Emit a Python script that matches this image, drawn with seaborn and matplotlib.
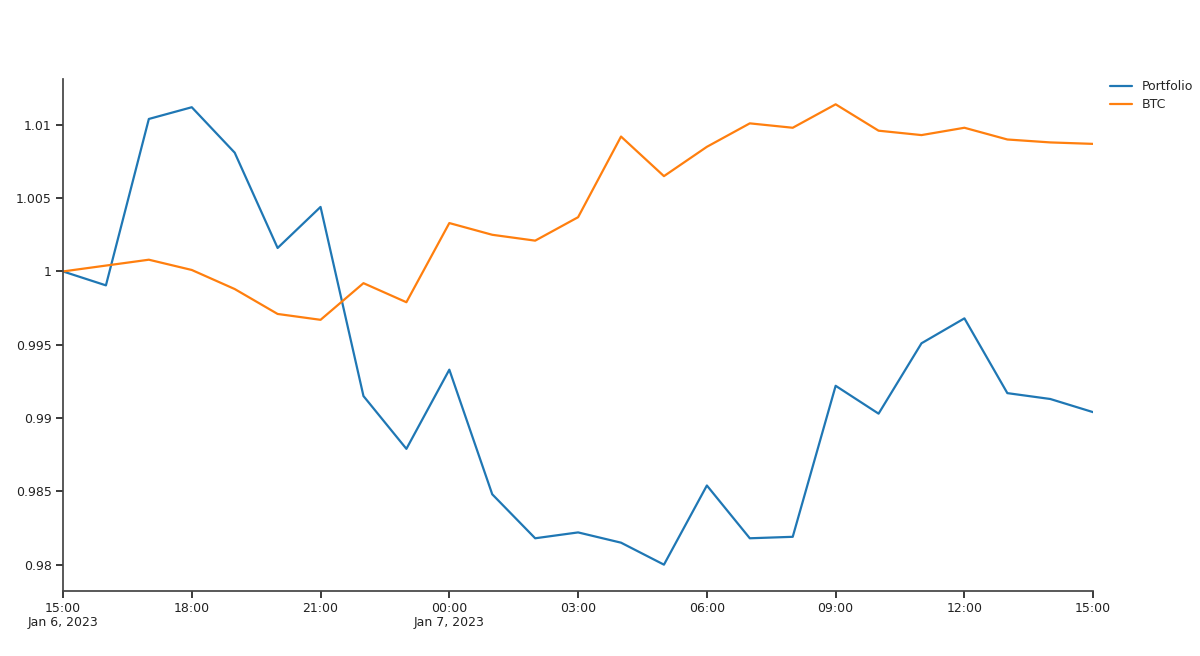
import matplotlib
matplotlib.use("Agg")
import matplotlib.pyplot as plt
import matplotlib.ticker as mticker
import seaborn as sns
import pandas as pd

times = pd.date_range("2023-01-06 15:00", "2023-01-07 15:00", freq="h")
portfolio = [1.0, 0.99905, 1.0104, 1.0112, 1.0081, 1.0016, 1.0044, 0.9915, 0.9879, 0.9933,
             0.9848, 0.9818, 0.9822, 0.9815, 0.9800, 0.9854, 0.9818, 0.9819, 0.9922, 0.9903,
             0.9951, 0.9968, 0.9917, 0.9913, 0.9904]
btc = [1.0, 1.0004, 1.0008, 1.0001, 0.9988, 0.9971, 0.9967, 0.9992, 0.9979, 1.0033,
       1.0025, 1.0021, 1.0037, 1.0092, 1.0065, 1.0085, 1.0101, 1.0098, 1.0114, 1.0096,
       1.0093, 1.0098, 1.0090, 1.0088, 1.0087]

sns.set_theme(style="white")
plt.rcParams['font.family'] = ['DejaVu Sans']
fig = plt.figure(figsize=(12, 6.56), dpi=100)
ax = fig.add_axes([0.0525, 0.099, 0.8585, 0.78])
df = pd.DataFrame({"time": list(times) * 2, "value": portfolio + btc,
                   "series": ["Portfolio"] * 25 + ["BTC"] * 25})
sns.lineplot(data=df, x="time", y="value", hue="series", palette=["#1f77b4", "#ff7f0e"],
             ax=ax, linewidth=1.6)
ax.set_xlim(times[0], times[-1])
ax.set_ylim(0.9782, 1.0131)
ax.set_xlabel(""); ax.set_ylabel("")
ax.set_yticks([0.98, 0.985, 0.99, 0.995, 1.0, 1.005, 1.01])
ax.yaxis.set_major_formatter(mticker.FuncFormatter(lambda v, p: f"{v:.3f}".rstrip("0").rstrip(".")))
ticks = pd.date_range("2023-01-06 15:00", "2023-01-07 15:00", freq="3h")
ax.set_xticks(ticks)
labels = []
for t in ticks:
    s = t.strftime("%H:%M")
    if t.hour == 15 and t.day == 6:
        s += "\nJan 6, 2023"
    elif t.hour == 0:
        s += "\nJan 7, 2023"
    labels.append(s)
ax.set_xticklabels(labels, linespacing=1.1)
for s in ["top", "right"]:
    ax.spines[s].set_visible(False)
for s in ["left", "bottom"]:
    ax.spines[s].set_color("#444444")
ax.tick_params(axis="both", labelsize=9, colors="#222222", length=5, direction="out",
               left=True, bottom=True, pad=3)
ax.legend(loc="upper left", bbox_to_anchor=(1.005, 1.02), frameon=False, fontsize=9,
          handlelength=1.8, labelspacing=0.4)
fig.savefig("out.png")
